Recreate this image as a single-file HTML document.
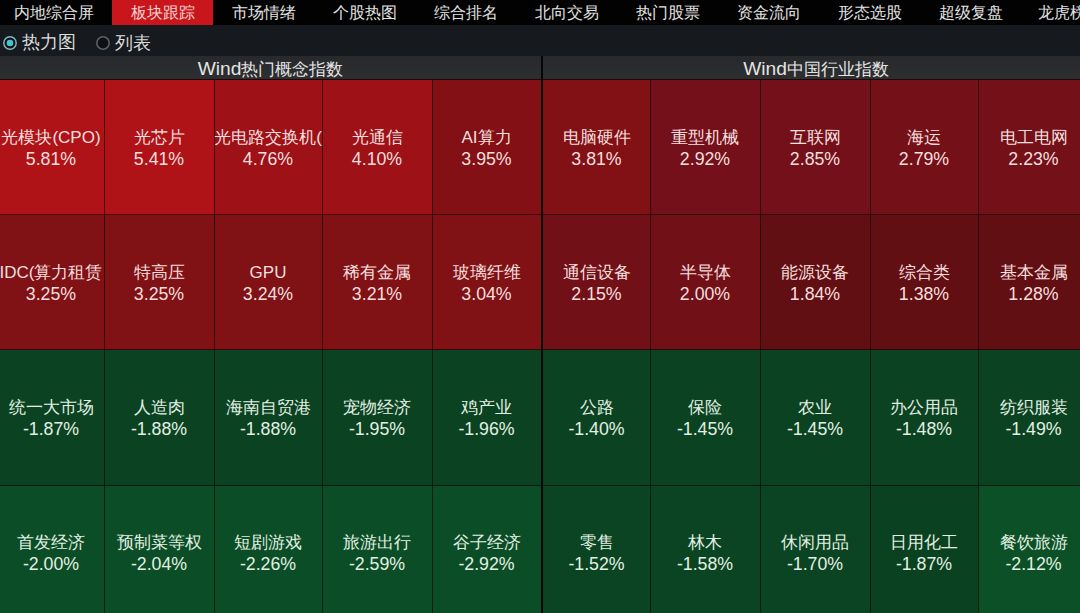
<!DOCTYPE html>
<html><head><meta charset="utf-8">
<style>
html,body{margin:0;padding:0;}
body{width:1080px;height:613px;overflow:hidden;position:relative;background:#000;font-family:"Liberation Sans",sans-serif;}
.tabs{position:absolute;left:0;top:0;width:1080px;height:25px;background:#020202;}
.tab{position:absolute;top:0;width:101px;height:25px;line-height:25px;text-align:center;color:#e2e2e2;font-size:16px;white-space:nowrap;}
.tab.act{background:#c8161c;color:#f7d3d3;}
.radio{position:absolute;left:0;top:25px;width:1080px;height:31px;background:#161a1f;}
.rb{position:absolute;top:37px;width:10px;height:10px;border-radius:50%;}
.rl{position:absolute;top:27px;height:31px;line-height:31px;font-size:18px;color:#dcdcdc;}
.hdr{position:absolute;top:56px;height:23px;line-height:26px;background:linear-gradient(#27292c,#2c2e30);color:#e4e4e4;font-size:17px;text-align:center;border-bottom:1px solid #1a0a0a;}
.vl{position:absolute;top:80px;width:1px;height:533px;background:rgba(0,0,0,0.55);}
.hl{position:absolute;left:0;width:1080px;height:1px;background:rgba(0,0,0,0.55);}
.sep{position:absolute;left:541px;top:56px;width:2px;height:557px;background:#050505;}
.cell{position:absolute;box-sizing:border-box;display:flex;align-items:center;justify-content:center;overflow:hidden;}
.t{text-align:center;color:#f4e6e6;white-space:nowrap;}
.n{font-size:17px;line-height:23px;position:relative;top:1px;}
.p{font-size:17.75px;line-height:23px;position:relative;top:0px;}
</style></head><body>
<div class="tabs">
<div class="tab" style="left:0px;width:112px;text-align:left;padding-left:14px;box-sizing:border-box">内地综合屏</div><div class="tab act" style="left:112px;width:101px">板块跟踪</div><div class="tab" style="left:213px;text-align:left;padding-left:19px;box-sizing:border-box">市场情绪</div><div class="tab" style="left:314px;text-align:left;padding-left:19px;box-sizing:border-box">个股热图</div><div class="tab" style="left:415px;text-align:left;padding-left:19px;box-sizing:border-box">综合排名</div><div class="tab" style="left:516px;text-align:left;padding-left:19px;box-sizing:border-box">北向交易</div><div class="tab" style="left:617px;text-align:left;padding-left:19px;box-sizing:border-box">热门股票</div><div class="tab" style="left:718px;text-align:left;padding-left:19px;box-sizing:border-box">资金流向</div><div class="tab" style="left:819px;text-align:left;padding-left:19px;box-sizing:border-box">形态选股</div><div class="tab" style="left:920px;text-align:left;padding-left:19px;box-sizing:border-box">超级复盘</div><div class="tab" style="left:1021px;text-align:left;padding-left:17px;box-sizing:border-box">龙虎榜</div>
</div>
<div class="radio"></div>
<svg style="position:absolute;left:0;top:33px" width="20" height="20"><circle cx="10" cy="10" r="6.2" fill="#0f1418" stroke="#85bac3" stroke-width="1.4"/><circle cx="10" cy="10" r="3.3" fill="#45c3cf"/></svg>
<div class="rl" style="left:22px">热力图</div>
<svg style="position:absolute;left:93px;top:33px" width="20" height="20"><circle cx="10" cy="10" r="6.2" fill="#0d1014" stroke="#5c5f63" stroke-width="1.6"/></svg>
<div class="rl" style="left:115px;top:28px">列表</div>
<div class="hdr" style="left:0;width:541px"><span style="font-size:19.2px">Wind</span>热门概念指数</div>
<div class="hdr" style="left:543px;width:546px"><span style="font-size:19.2px">Wind</span>中国行业指数</div>
<div class="cell" style="left:-2px;top:80px;width:106px;height:135px;background:#af1317"><div class="t" style="color:#f6dfdf"><div class="n">光模块(CPO)</div><div class="p">5.81%</div></div></div>
<div class="cell" style="left:104px;top:80px;width:110px;height:135px;background:#af1317"><div class="t" style="color:#f6dfdf"><div class="n">光芯片</div><div class="p">5.41%</div></div></div>
<div class="cell" style="left:214px;top:80px;width:108px;height:135px;background:#9d1117"><div class="t" style="color:#f6dfdf"><div class="n">光电路交换机(</div><div class="p">4.76%</div></div></div>
<div class="cell" style="left:322px;top:80px;width:110px;height:135px;background:#9d1117"><div class="t" style="color:#f6dfdf"><div class="n">光通信</div><div class="p">4.10%</div></div></div>
<div class="cell" style="left:432px;top:80px;width:109px;height:135px;background:#821014"><div class="t" style="color:#f6dfdf"><div class="n">AI算力</div><div class="p">3.95%</div></div></div>
<div class="cell" style="left:-2px;top:215px;width:106px;height:135px;background:#801115"><div class="t" style="color:#f6dfdf"><div class="n">IDC(算力租赁</div><div class="p">3.25%</div></div></div>
<div class="cell" style="left:104px;top:215px;width:110px;height:135px;background:#801115"><div class="t" style="color:#f6dfdf"><div class="n">特高压</div><div class="p">3.25%</div></div></div>
<div class="cell" style="left:214px;top:215px;width:108px;height:135px;background:#801115"><div class="t" style="color:#f6dfdf"><div class="n">GPU</div><div class="p">3.24%</div></div></div>
<div class="cell" style="left:322px;top:215px;width:110px;height:135px;background:#801115"><div class="t" style="color:#f6dfdf"><div class="n">稀有金属</div><div class="p">3.21%</div></div></div>
<div class="cell" style="left:432px;top:215px;width:109px;height:135px;background:#801115"><div class="t" style="color:#f6dfdf"><div class="n">玻璃纤维</div><div class="p">3.04%</div></div></div>
<div class="cell" style="left:-2px;top:350px;width:106px;height:136px;background:#0b4222"><div class="t" style="color:#e2f0e2"><div class="n">统一大市场</div><div class="p">-1.87%</div></div></div>
<div class="cell" style="left:104px;top:350px;width:110px;height:136px;background:#0b4222"><div class="t" style="color:#e2f0e2"><div class="n">人造肉</div><div class="p">-1.88%</div></div></div>
<div class="cell" style="left:214px;top:350px;width:108px;height:136px;background:#0b4222"><div class="t" style="color:#e2f0e2"><div class="n">海南自贸港</div><div class="p">-1.88%</div></div></div>
<div class="cell" style="left:322px;top:350px;width:110px;height:136px;background:#0b4222"><div class="t" style="color:#e2f0e2"><div class="n">宠物经济</div><div class="p">-1.95%</div></div></div>
<div class="cell" style="left:432px;top:350px;width:109px;height:136px;background:#0b4222"><div class="t" style="color:#e2f0e2"><div class="n">鸡产业</div><div class="p">-1.96%</div></div></div>
<div class="cell" style="left:-2px;top:486px;width:106px;height:133px;background:#0b4d26"><div class="t" style="color:#e2f0e2"><div class="n">首发经济</div><div class="p">-2.00%</div></div></div>
<div class="cell" style="left:104px;top:486px;width:110px;height:133px;background:#0b4d26"><div class="t" style="color:#e2f0e2"><div class="n">预制菜等权</div><div class="p">-2.04%</div></div></div>
<div class="cell" style="left:214px;top:486px;width:108px;height:133px;background:#0b4d26"><div class="t" style="color:#e2f0e2"><div class="n">短剧游戏</div><div class="p">-2.26%</div></div></div>
<div class="cell" style="left:322px;top:486px;width:110px;height:133px;background:#0b4d26"><div class="t" style="color:#e2f0e2"><div class="n">旅游出行</div><div class="p">-2.59%</div></div></div>
<div class="cell" style="left:432px;top:486px;width:109px;height:133px;background:#0b4d26"><div class="t" style="color:#e2f0e2"><div class="n">谷子经济</div><div class="p">-2.92%</div></div></div>
<div class="cell" style="left:543px;top:80px;width:107px;height:135px;background:#821115"><div class="t" style="color:#f6dfdf"><div class="n">电脑硬件</div><div class="p">3.81%</div></div></div>
<div class="cell" style="left:650px;top:80px;width:110px;height:135px;background:#741019"><div class="t" style="color:#f6dfdf"><div class="n">重型机械</div><div class="p">2.92%</div></div></div>
<div class="cell" style="left:760px;top:80px;width:110px;height:135px;background:#741019"><div class="t" style="color:#f6dfdf"><div class="n">互联网</div><div class="p">2.85%</div></div></div>
<div class="cell" style="left:870px;top:80px;width:108px;height:135px;background:#731018"><div class="t" style="color:#f6dfdf"><div class="n">海运</div><div class="p">2.79%</div></div></div>
<div class="cell" style="left:978px;top:80px;width:111px;height:135px;background:#731018"><div class="t" style="color:#f6dfdf"><div class="n">电工电网</div><div class="p">2.23%</div></div></div>
<div class="cell" style="left:543px;top:215px;width:107px;height:135px;background:#721018"><div class="t" style="color:#f6dfdf"><div class="n">通信设备</div><div class="p">2.15%</div></div></div>
<div class="cell" style="left:650px;top:215px;width:110px;height:135px;background:#721018"><div class="t" style="color:#f6dfdf"><div class="n">半导体</div><div class="p">2.00%</div></div></div>
<div class="cell" style="left:760px;top:215px;width:110px;height:135px;background:#620f14"><div class="t" style="color:#f6dfdf"><div class="n">能源设备</div><div class="p">1.84%</div></div></div>
<div class="cell" style="left:870px;top:215px;width:108px;height:135px;background:#620f14"><div class="t" style="color:#f6dfdf"><div class="n">综合类</div><div class="p">1.38%</div></div></div>
<div class="cell" style="left:978px;top:215px;width:111px;height:135px;background:#620f14"><div class="t" style="color:#f6dfdf"><div class="n">基本金属</div><div class="p">1.28%</div></div></div>
<div class="cell" style="left:543px;top:350px;width:107px;height:136px;background:#0b4222"><div class="t" style="color:#e2f0e2"><div class="n">公路</div><div class="p">-1.40%</div></div></div>
<div class="cell" style="left:650px;top:350px;width:110px;height:136px;background:#0b4222"><div class="t" style="color:#e2f0e2"><div class="n">保险</div><div class="p">-1.45%</div></div></div>
<div class="cell" style="left:760px;top:350px;width:110px;height:136px;background:#0b4222"><div class="t" style="color:#e2f0e2"><div class="n">农业</div><div class="p">-1.45%</div></div></div>
<div class="cell" style="left:870px;top:350px;width:108px;height:136px;background:#0b4222"><div class="t" style="color:#e2f0e2"><div class="n">办公用品</div><div class="p">-1.48%</div></div></div>
<div class="cell" style="left:978px;top:350px;width:111px;height:136px;background:#0b4222"><div class="t" style="color:#e2f0e2"><div class="n">纺织服装</div><div class="p">-1.49%</div></div></div>
<div class="cell" style="left:543px;top:486px;width:107px;height:133px;background:#0a4423"><div class="t" style="color:#e2f0e2"><div class="n">零售</div><div class="p">-1.52%</div></div></div>
<div class="cell" style="left:650px;top:486px;width:110px;height:133px;background:#0a4423"><div class="t" style="color:#e2f0e2"><div class="n">林木</div><div class="p">-1.58%</div></div></div>
<div class="cell" style="left:760px;top:486px;width:110px;height:133px;background:#0a4423"><div class="t" style="color:#e2f0e2"><div class="n">休闲用品</div><div class="p">-1.70%</div></div></div>
<div class="cell" style="left:870px;top:486px;width:108px;height:133px;background:#0a4121"><div class="t" style="color:#e2f0e2"><div class="n">日用化工</div><div class="p">-1.87%</div></div></div>
<div class="cell" style="left:978px;top:486px;width:111px;height:133px;background:#0b5027"><div class="t" style="color:#e2f0e2"><div class="n">餐饮旅游</div><div class="p">-2.12%</div></div></div>
<div class="vl" style="left:104px"></div><div class="vl" style="left:214px"></div><div class="vl" style="left:322px"></div><div class="vl" style="left:432px"></div><div class="vl" style="left:650px"></div><div class="vl" style="left:760px"></div><div class="vl" style="left:870px"></div><div class="vl" style="left:978px"></div>
<div class="hl" style="top:214px"></div><div class="hl" style="top:349px"></div><div class="hl" style="top:485px"></div>
<div class="sep"></div>
</body></html>
